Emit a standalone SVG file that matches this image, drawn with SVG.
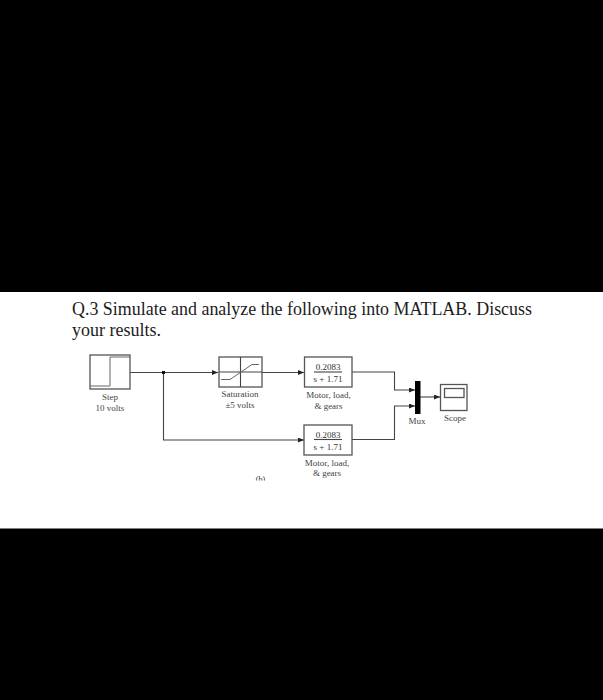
<svg xmlns="http://www.w3.org/2000/svg" width="603" height="700" viewBox="0 0 603 700">
<style>
.t{font-family:"Liberation Serif","Times New Roman",serif;fill:#1c1c1c}
.h{font-size:19px}
.l{font-size:9px;text-anchor:middle;fill:#444}
.f{font-size:9px;text-anchor:middle;fill:#333}
.b{fill:#fff;stroke:#555;stroke-width:1.3}
.c{fill:none;stroke:#444;stroke-width:1.1}
.s{fill:none;stroke:#666;stroke-width:1}
</style>
<defs>
<marker id="a" markerUnits="userSpaceOnUse" markerWidth="6" markerHeight="5" refX="6" refY="2.500" orient="auto"><path d="M0 0L6 2.500L0 5Z" fill="#222"/></marker>
<clipPath id="cut"><rect x="250" y="470" width="22" height="10.500"/></clipPath>
</defs>
<rect width="603" height="700" fill="#000"/>
<rect y="292" width="603" height="236.500" fill="#fff"/>
<text class="t h" x="72" y="315" textLength="460" lengthAdjust="spacingAndGlyphs">Q.3 Simulate and analyze the following into MATLAB. Discuss</text>
<text class="t h" x="72" y="336" textLength="89" lengthAdjust="spacingAndGlyphs">your results.</text>
<g id="connectors">
<path class="c" d="M130 372.500H218" marker-end="url(#a)"/>
<path class="c" d="M262 372.500H304" marker-end="url(#a)"/>
<path class="c" d="M163.500 372.500V440H304" marker-end="url(#a)"/>
<path class="c" d="M352 372H394.500V390H415" marker-end="url(#a)"/>
<path class="c" d="M352 439.500H394.500V406H415" marker-end="url(#a)"/>
<path class="c" d="M420 397H440" marker-end="url(#a)"/>
<rect x="162" y="371" width="3" height="3" fill="#111"/>
</g>
<g id="step">
<rect class="b" x="90" y="355" width="40" height="34"/>
<path class="s" d="M90 386H110V357H130"/>
<text class="t l" x="110" y="399.500">Step</text>
<text class="t l" x="110" y="410.500">10 volts</text>
</g>
<g id="saturation">
<rect class="b" x="219" y="357" width="43" height="30"/>
<path class="c" d="M240.500 357V387M219 372H262"/>
<path class="s" d="M221 379.500H230L252 364.500H259"/>
<text class="t l" x="240" y="397">Saturation</text>
<text class="t l" x="240" y="408">±5 volts</text>
</g>
<g id="motor1">
<rect class="b" x="304.500" y="357" width="47.500" height="30"/>
<text class="t f" x="328" y="370">0.2083</text>
<path class="c" d="M314 372H342"/>
<text class="t f" x="328" y="381.500">s + 1.71</text>
<text class="t l" x="328.500" y="398">Motor, load,</text>
<text class="t l" x="328.500" y="408.500">&amp; gears</text>
</g>
<g id="motor2">
<rect class="b" x="304" y="425" width="48" height="30"/>
<text class="t f" x="328" y="437.500">0.2083</text>
<path class="c" d="M314 439.500H342"/>
<text class="t f" x="328" y="449.500">s + 1.71</text>
<text class="t l" x="327" y="465.500">Motor, load,</text>
<text class="t l" x="327" y="476">&amp; gears</text>
</g>
<g id="mux">
<rect x="415" y="381" width="5.500" height="33" fill="#000"/>
<text class="t l" x="417" y="423.500">Mux</text>
</g>
<g id="scope">
<rect class="b" x="440.500" y="384.500" width="26.500" height="26"/>
<rect class="b" x="444.500" y="388.500" width="19.500" height="9"/>
<text class="t l" x="455" y="421">Scope</text>
</g>
<text class="t" x="260.500" y="482" font-size="8" text-anchor="middle" fill="#444" clip-path="url(#cut)">(b)</text>
</svg>
